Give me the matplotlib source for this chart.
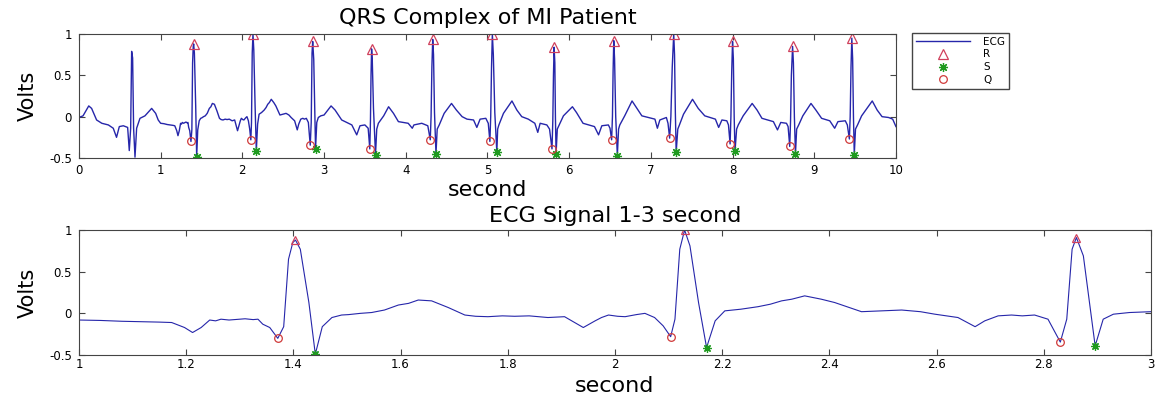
import matplotlib
matplotlib.use('Agg')
import matplotlib.pyplot as plt
from matplotlib.ticker import FormatStrFormatter

plt.rcParams['font.family'] = ['DejaVu Sans']
plt.rcParams['axes.unicode_minus'] = False

# ECG trace (seconds, volts)
ecg_t = [0.00, 0.05, 0.12, 0.155, 0.216, 0.28, 0.36, 0.42, 0.46, 0.494, 0.543, 0.596,
         0.616, 0.633, 0.645, 0.657, 0.669, 0.686, 0.706, 0.747, 0.808, 0.89, 0.939, 0.97,
         # 1-3 s, detailed
         1.00, 1.04, 1.08, 1.12, 1.15, 1.173, 1.197, 1.212, 1.228, 1.244, 1.255, 1.265,
         1.28, 1.29, 1.31, 1.325, 1.334, 1.343, 1.356, 1.371, 1.382, 1.391, 1.399, 1.404,
         1.413, 1.429, 1.441, 1.454, 1.472, 1.49, 1.503, 1.525, 1.546, 1.57, 1.596, 1.615,
         1.633, 1.645, 1.658, 1.689, 1.72, 1.74, 1.763, 1.79, 1.813, 1.84, 1.875, 1.906,
         1.925, 1.941, 1.963, 1.975, 1.988, 2.005, 2.019, 2.04, 2.056, 2.074, 2.09, 2.104,
         2.112, 2.121, 2.13, 2.14, 2.156, 2.171, 2.187, 2.205, 2.235, 2.267, 2.29, 2.311,
         2.33, 2.354, 2.385, 2.41, 2.46, 2.50, 2.535, 2.57, 2.597, 2.64, 2.672, 2.69,
         2.715, 2.74, 2.76, 2.783, 2.808, 2.831, 2.843, 2.853, 2.861, 2.874, 2.883, 2.896,
         2.911, 2.93, 2.96, 3.00,
         # 3-10 s
         3.086, 3.135, 3.216, 3.34, 3.40, 3.44, 3.50, 3.54, 3.56, 3.568, 3.575, 3.582,
         3.59, 3.605, 3.63, 3.645, 3.665, 3.73, 3.79, 3.85, 3.91, 4.03, 4.08, 4.10,
         4.196, 4.27, 4.30, 4.31, 4.32, 4.33, 4.34, 4.352, 4.37, 4.385, 4.41, 4.47,
         4.56, 4.62, 4.69, 4.75, 4.83, 4.87, 4.91, 4.98, 5.01, 5.03, 5.04, 5.05,
         5.06, 5.072, 5.09, 5.115, 5.125, 5.14, 5.196, 5.30, 5.36, 5.42, 5.50, 5.58,
         5.616, 5.645, 5.727, 5.76, 5.79, 5.80, 5.808, 5.816, 5.825, 5.832, 5.84, 5.855,
         5.878, 5.93, 6.04, 6.09, 6.17, 6.31, 6.36, 6.40, 6.48, 6.50, 6.52, 6.53,
         6.538, 6.546, 6.556, 6.57, 6.59, 6.605, 6.62, 6.68, 6.77, 6.83, 6.89, 6.97,
         7.05, 7.08, 7.11, 7.19, 7.21, 7.23, 7.245, 7.262, 7.28, 7.29, 7.30, 7.31,
         7.33, 7.35, 7.40, 7.51, 7.58, 7.66, 7.79, 7.83, 7.87, 7.93, 7.95, 7.97,
         7.98, 7.99, 8.00, 8.01, 8.02, 8.03, 8.05, 8.07, 8.13, 8.24, 8.30, 8.36,
         8.50, 8.55, 8.59, 8.66, 8.68, 8.70, 8.71, 8.72, 8.735, 8.745, 8.757, 8.77,
         8.785, 8.81, 8.86, 8.96, 9.02, 9.09, 9.19, 9.25, 9.29, 9.38, 9.405, 9.43,
         9.44, 9.45, 9.46, 9.47, 9.48, 9.49, 9.505, 9.53, 9.58, 9.71, 9.77, 9.83,
         9.91, 9.96, 10.00]
ecg_v = [-0.01, 0.01, 0.13, 0.10, -0.04, -0.08, -0.10, -0.14, -0.25, -0.12, -0.11, -0.13,
         -0.41, -0.14, 0.79, 0.71, -0.14, -0.49, -0.14, -0.02, 0.01, 0.10, 0.04, -0.04,
         -0.08, -0.085, -0.095, -0.10, -0.105, -0.11, -0.17, -0.23, -0.17, -0.08, -0.09, -0.07,
         -0.08, -0.075, -0.065, -0.075, -0.07, -0.13, -0.17, -0.30, -0.16, 0.65, 0.85, 0.88,
         0.77, 0.13, -0.49, -0.16, -0.05, -0.02, -0.015, 0.00, 0.01, 0.04, 0.10, 0.12,
         0.16, 0.155, 0.15, 0.07, -0.02, -0.035, -0.04, -0.03, -0.035, -0.03, -0.05, -0.04,
         -0.11, -0.17, -0.09, -0.05, -0.02, -0.035, -0.04, -0.015, 0.00, -0.05, -0.15, -0.28,
         -0.07, 0.77, 1.00, 0.81, 0.13, -0.41, -0.09, 0.03, 0.05, 0.08, 0.11, 0.15,
         0.17, 0.21, 0.17, 0.13, 0.02, 0.03, 0.04, 0.02, -0.01, -0.05, -0.16, -0.09,
         -0.03, -0.02, -0.03, -0.02, -0.07, -0.345, -0.07, 0.77, 0.91, 0.69, 0.25, -0.39,
         -0.07, -0.01, 0.01, 0.02,
         0.13, 0.08, -0.04, -0.10, -0.22, -0.11, -0.10, -0.14, -0.39, -0.05, 0.50, 0.82,
         0.70, 0.10, -0.46, -0.15, -0.08, 0.01, 0.12, 0.04, -0.06, -0.08, -0.14, -0.10,
         -0.08, -0.11, -0.28, 0.00, 0.60, 0.935, 0.75, 0.05, -0.45, -0.15, -0.10, 0.04,
         0.16, 0.08, 0.00, -0.03, -0.04, -0.13, -0.03, -0.02, -0.08, -0.30, 0.00, 0.60,
         1.00, 0.75, 0.05, -0.43, -0.15, -0.10, 0.04, 0.19, 0.08, 0.00, -0.03, -0.08,
         -0.19, -0.08, -0.10, -0.15, -0.39, -0.05, 0.50, 0.84, 0.65, 0.00, -0.45, -0.15,
         -0.10, 0.01, 0.12, 0.05, -0.08, -0.12, -0.22, -0.11, -0.10, -0.14, -0.28, 0.00,
         0.55, 0.92, 0.70, 0.00, -0.47, -0.15, -0.10, 0.01, 0.19, 0.10, 0.01, -0.01,
         -0.03, -0.14, -0.04, -0.01, -0.08, -0.26, 0.00, 0.60, 1.00, 0.75, 0.05, -0.43,
         -0.15, -0.10, 0.03, 0.21, 0.10, 0.01, -0.03, -0.13, -0.04, -0.05, -0.10, -0.33,
         0.00, 0.55, 0.91, 0.70, 0.00, -0.42, -0.15, -0.10, 0.01, 0.16, 0.08, -0.02,
         -0.06, -0.16, -0.07, -0.08, -0.12, -0.36, -0.05, 0.50, 0.85, 0.65, 0.00, -0.45,
         -0.15, -0.10, 0.01, 0.16, 0.08, -0.02, -0.05, -0.14, -0.06, -0.05, -0.10, -0.27,
         0.00, 0.60, 0.95, 0.70, 0.00, -0.46, -0.15, -0.10, 0.01, 0.19, 0.08, 0.00,
         -0.01, -0.03, -0.12]

# detected points
r_t = [1.404, 2.13, 2.861, 3.582, 4.33, 5.06, 5.816, 6.546, 7.28, 8.00, 8.735, 9.46]
r_v = [0.88, 1.00, 0.91, 0.82, 0.935, 1.00, 0.84, 0.92, 1.00, 0.91, 0.85, 0.95]
s_t = [1.441, 2.171, 2.896, 3.63, 4.37, 5.115, 5.84, 6.59, 7.31, 8.03, 8.77, 9.49]
s_v = [-0.49, -0.41, -0.39, -0.46, -0.45, -0.43, -0.45, -0.47, -0.43, -0.42, -0.45, -0.46]
q_t = [1.371, 2.104, 2.831, 3.56, 4.30, 5.03, 5.79, 6.52, 7.23, 7.97, 8.70, 9.43]
q_v = [-0.30, -0.28, -0.345, -0.39, -0.28, -0.30, -0.39, -0.28, -0.26, -0.33, -0.36, -0.27]

top_xticks = list(range(0, 11))
bot_xticks = [1, 1.2, 1.4, 1.6, 1.8, 2, 2.2, 2.4, 2.6, 2.8, 3]
yticks = [-0.5, 0, 0.5, 1]

line_col = '#2626aa'
r_col = '#d0405c'
s_col = '#1f9a1f'
q_col = '#d03a3a'
star = (8, 2, 0)   # asterisk like matlab '*'

fig = plt.figure(figsize=(11.61, 3.98), dpi=100)
ax1 = fig.add_axes([0.068, 0.603, 0.7037, 0.3116])
ax2 = fig.add_axes([0.068, 0.108, 0.9233, 0.314])


def style(ax, xpad):
    for sp in ax.spines.values():
        sp.set_color('#444444')
        sp.set_linewidth(0.8)
    ax.tick_params(direction='in', length=4, width=0.8, color='#444444',
                   top=True, right=True, labelsize=8.5)
    ax.tick_params(axis='x', pad=xpad)
    ax.tick_params(axis='y', pad=5)
    ax.set_yticks(yticks)
    ax.yaxis.set_major_formatter(FormatStrFormatter('%g'))
    ax.xaxis.set_major_formatter(FormatStrFormatter('%g'))
    ax.set_ylim(-0.5, 1)


# top panel
l1, = ax1.plot(ecg_t, ecg_v, color=line_col, lw=1.0, label='ECG')
p_r, = ax1.plot(r_t, r_v, ls='none', marker='^', ms=6.5, mfc='none', mec=r_col, mew=0.9, label='R')
p_s, = ax1.plot(s_t, s_v, ls='none', marker=star, ms=6.5, color=s_col, mew=0.9, label='S')
p_q, = ax1.plot(q_t, q_v, ls='none', marker='o', ms=5.5, mfc='none', mec=q_col, mew=0.9, label='Q')
style(ax1, 4.5)
ax1.set_xlim(0, 10)
ax1.set_xticks(top_xticks)
ax1.set_title('QRS Complex of MI Patient', fontsize=16, pad=7)
ax1.set_xlabel('second', fontsize=16)
ax1.set_ylabel('Volts', fontsize=15)
ax1.xaxis.set_label_coords(0.5, -0.175)
ax1.yaxis.set_label_coords(-0.050, 0.5)

fig.legend(handles=[l1, p_r, p_s, p_q], loc='upper left',
           bbox_to_anchor=(912 / 1161, 1 - 33 / 398), fontsize=7.5,
           fancybox=False, edgecolor='#444444', framealpha=1,
           borderpad=0.35, labelspacing=0.27, handlelength=5.2, handletextpad=1.3,
           borderaxespad=0, numpoints=1)

# bottom panel, 1-3 s
ax2.plot(ecg_t, ecg_v, color=line_col, lw=0.8)
ax2.plot(r_t, r_v, ls='none', marker='^', ms=6, mfc='none', mec=r_col, mew=0.9)
ax2.plot(s_t, s_v, ls='none', marker=star, ms=6, color=s_col, mew=0.9)
ax2.plot(q_t, q_v, ls='none', marker='o', ms=5.5, mfc='none', mec=q_col, mew=0.9)
style(ax2, 2.5)
ax2.set_xlim(1, 3)
ax2.set_xticks(bot_xticks)
ax2.set_title('ECG Signal 1-3 second', fontsize=16, pad=5.5)
ax2.set_xlabel('second', fontsize=16)
ax2.set_ylabel('Volts', fontsize=15)
ax2.xaxis.set_label_coords(0.5, -0.165)
ax2.yaxis.set_label_coords(-0.038, 0.5)

plt.savefig('out.png', dpi=100)
